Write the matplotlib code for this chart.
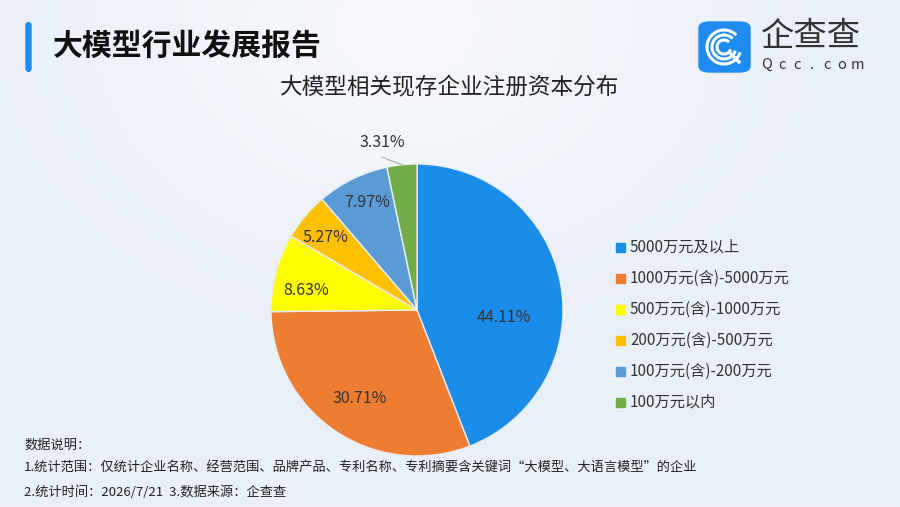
import numpy as np
import matplotlib.pyplot as plt
from matplotlib.patches import FancyBboxPatch, Arc, Rectangle

plt.rcParams['font.family'] = ['Noto Sans CJK SC', 'DejaVu Sans']

# 数据
categories = ['5000万元及以上', '1000万元(含)-5000万元', '500万元(含)-1000万元',
              '200万元(含)-500万元', '100万元(含)-200万元', '100万元以内']
shares = [44.11, 30.71, 8.63, 5.27, 7.97, 3.31]
colors = ['#1B8CEA', '#ED7D31', '#FFFF00', '#FFC000', '#5B9BD5', '#70AD47']

title = '大模型行业发展报告'
subtitle = '大模型相关现存企业注册资本分布'
notes = ['数据说明：',
         '1.统计范围：仅统计企业名称、经营范围、品牌产品、专利名称、专利摘要含关键词“大模型、大语言模型”的企业',
         '2.统计时间：2026/7/21  3.数据来源：企查查']

W, H = 900, 507
fig = plt.figure(figsize=(9, 5.07), dpi=100)

# 背景渐变
bg = fig.add_axes([0, 0, 1, 1])
yy, xx = np.mgrid[0:1:200j, 0:1:360j]
glow = np.exp(-((xx - 0.45) ** 2 / 0.08 + (yy - 0.05) ** 2 / 0.15))
bg.imshow(glow, cmap=plt.matplotlib.colors.LinearSegmentedColormap.from_list(
    'bg', ['#EAF0F8', '#F7F9FC']), extent=[0, 1, 0, 1], aspect='auto', origin='upper')
bg.set_xlim(0, 1)
bg.set_ylim(0, 1)
bg.axis('off')


def fx(px):
    return px / W


def fy(py):
    return 1 - py / H


# 标题栏
bg.add_patch(FancyBboxPatch((fx(26), fy(71)), fx(5), fy(23) - fy(71),
                            boxstyle='round,pad=0,rounding_size=0.004',
                            color='#1E8BF0', transform=fig.transFigure))
fig.text(fx(53), fy(46), title, fontsize=21.5, fontweight='bold', color='#111111', va='center')

# logo
bg.add_patch(FancyBboxPatch((fx(699), fy(72)), fx(51), fy(22) - fy(72),
                            boxstyle='round,pad=0,rounding_size=0.012',
                            color='#1E8BF0', transform=fig.transFigure))
lx, ly = fx(724), fy(47)
for d in [34, 24, 14]:
    bg.add_patch(Arc((lx, ly), fx(d), fx(d) * W / H, theta1=60, theta2=330,
                     color='white', lw=2.2, transform=fig.transFigure))
bg.plot([fx(731), fx(739)], [fy(54), fy(62)], color='white', lw=2.4, transform=fig.transFigure)
fig.text(fx(811), fy(37), '企查查', fontsize=24, color='#333333', ha='center', va='center')
for k, ch in enumerate('Qcc.com'):
    fig.text(fx(767 + k * 15), fy(65), ch, fontsize=10.5, color='#333333',
             ha='center', va='center')

fig.text(fx(449), fy(88), subtitle, fontsize=16.3, color='#222222', ha='center', va='center')

# 饼图
cx, cy, r = 417, 310, 146
ax = fig.add_axes([fx(cx - r), fy(cy + r), fx(2 * r), (2 * r) / H])
wedges, _ = ax.pie(shares, colors=colors, startangle=90, counterclock=False,
                   radius=1, wedgeprops=dict(edgecolor='#E8EEF6', linewidth=1))
ax.set_xlim(-1, 1)
ax.set_ylim(-1, 1)
ax.set_aspect('auto')

# 标签位置（半径、角度偏移）
label_r = [0.60, 0.72, 0.77, 0.80, 0.815, 1.17]
label_da = [-15.6, 1, 4.7, 1.3, -1.4, 5.9]
for w, v, lr, da in zip(wedges, shares, label_r, label_da):
    mid = np.deg2rad((w.theta1 + w.theta2) / 2 + da)
    ax.text(lr * np.cos(mid), lr * np.sin(mid), f'{v:.2f}%', fontsize=11.5,
            color='#333333', ha='center', va='center')
    if lr > 1:
        m0 = np.deg2rad((w.theta1 + w.theta2) / 2)
        m1 = np.deg2rad((w.theta1 + w.theta2) / 2 + 7)
        ax.plot([np.cos(m0), 1.075 * np.cos(m1)], [np.sin(m0), 1.075 * np.sin(m1)],
                color='#AAAAAA', lw=0.8, clip_on=False)

# 图例
for i, (c, lab) in enumerate(zip(colors, categories)):
    ypx = 247 + i * 31
    bg.add_patch(Rectangle((fx(616), fy(ypx + 4.5)), fx(9), 9 / H, color=c,
                           transform=fig.transFigure))
    fig.text(fx(630), fy(ypx), lab, fontsize=11, color='#333333', va='center')

# 数据说明
for i, line in enumerate(notes):
    fig.text(fx(24), fy(445 + i * 23.5), line, fontsize=9.5, color='#222222', va='center')

fig.savefig('out.png', dpi=100)
